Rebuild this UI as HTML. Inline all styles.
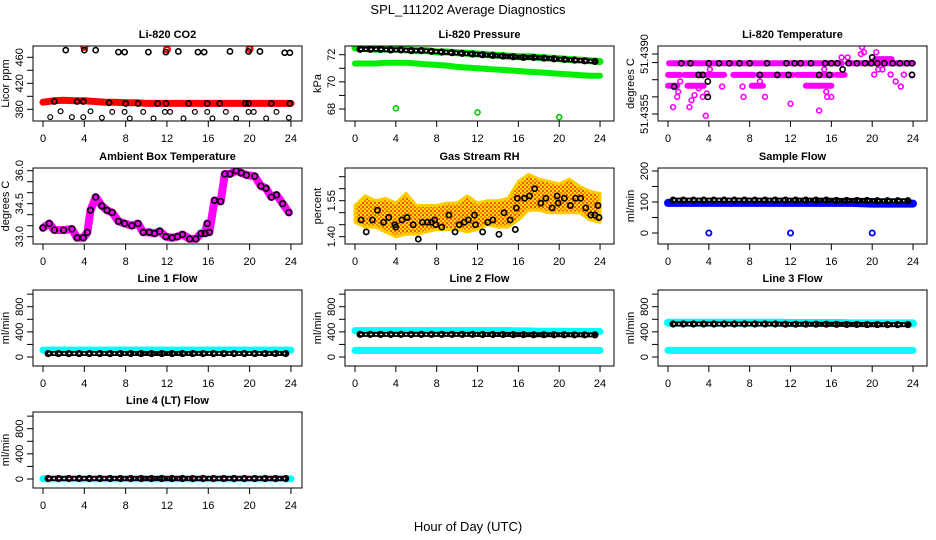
<!DOCTYPE html>
<html><head><meta charset="utf-8"><style>
html,body{margin:0;padding:0;background:#fff;}
svg{display:block;font-family:"Liberation Sans",Arial,sans-serif;}
</style></head><body>
<svg id="chart" width="936" height="540" viewBox="0 0 936 540" xmlns="http://www.w3.org/2000/svg">
<text x="468" y="14" text-anchor="middle" font-size="13">SPL_111202  Average Diagnostics</text>
<text x="468" y="531" text-anchor="middle" font-size="13">Hour of Day (UTC)</text>
</svg>
<script>
// ---------- data ----------
const hours = [0,1,2,3,4,5,6,7,8,9,10,11,12,13,14,15,16,17,18,19,20,21,22,23,24];
const halfHours = [0.5,1.5,2.5,3.5,4.5,5.5,6.5,7.5,8.5,9.5,10.5,11.5,12.5,13.5,14.5,15.5,16.5,17.5,18.5,19.5,20.5,21.5,22.5,23.5];
const xTicks = [0,4,8,12,16,20,24];

// Li-820 CO2
const co2Red = [391,393,394,393,393,392,391,391,390,390,389,389,389,389,389,389,389,389,389,389,389,389,389,389,389];
const co2RedOutT = [4,12,20];
const co2RedOutV = [476,472,473];
const co2HiT = [2.2,4,5.1,7.3,7.9,10.2,11.9,13.1,15,15.6,18.1,19.9,21,23.4,23.9];
const co2HiV = [471,471,471,468,468,468,468,469,468,468,469,469,469,467,467];
const co2MidT = [1.1,3.3,3.9,6.4,8,9.2,11.1,11.9,14.1,15.9,17.1,19.6,19.9,22.1,23.9];
const co2MidV = [392,392,392,390,389,389,389,389,389,389,389,389,389,389,389];
const co2LoT = [0.7,1.7,2.8,3.9,4.6,5.7,6.7,7.9,8.4,9.7,10.7,11.8,12.3,13.6,14.7,15.9,16.4,17.7,18.7,19.9,20.4,21.6,22.6,23.8];
const co2LoV = [368,377,368,368,377,367,376,376,366,376,366,376,376,366,376,376,366,376,366,376,376,366,376,367];

// Li-820 Pressure
const presUpper = [72.5,72.45,72.4,72.4,72.4,72.35,72.3,72.3,72.2,72.2,72.15,72.1,72.05,72.0,71.95,71.9,71.85,71.85,71.8,71.75,71.7,71.65,71.6,71.55,71.5];
const presLower = [71.35,71.35,71.35,71.4,71.4,71.4,71.35,71.3,71.25,71.2,71.1,71.05,71.0,70.95,70.9,70.85,70.8,70.75,70.7,70.65,70.6,70.55,70.5,70.45,70.45];
const presBlack = [72.4,72.4,72.4,72.35,72.35,72.3,72.3,72.25,72.2,72.15,72.1,72.05,72.0,71.95,71.9,71.85,71.8,71.8,71.75,71.7,71.65,71.6,71.55,71.5];
const presOutT = [4,12,20];
const presOutV = [68.05,67.75,67.4];

// Li-820 Temperature (segments of constant level)
const tempSegStart = [0.1,17.6,0.0,1.6,6.4,8.8,12.6,16.5,0.0,1.9,8.2,13.5,20.3];
const tempSegEnd   = [17.0,24.0,1.2,5.5,8.4,12.2,16.1,17.3,0.9,3.5,9.3,16.0,21.9];
const tempSegLevel = [51.43846,51.43846,51.43778,51.43778,51.43778,51.43778,51.43778,51.43778,51.43715,51.43715,51.43715,51.43715,51.43870];
const tempPtT = [0.5,0.9,1.0,1.2,2.1,2.3,2.6,3.0,3.4,3.7,3.8,4.1,5.3,7.3,7.4,9.0,9.5,12.0,14.8,15.3,15.5,15.6,16.0,17.0,17.6,18.9,19.0,19.2,20.2,20.4,20.6,21.0,21.8,22.3,22.8,23.1,23.9];
const tempPtV = [51.4359,51.4365,51.4368,51.4374,51.4359,51.4363,51.4366,51.4370,51.4365,51.4354,51.4367,51.4381,51.4371,51.4371,51.4365,51.4374,51.4365,51.4361,51.4357,51.4381,51.4368,51.4365,51.4365,51.4388,51.4388,51.4390,51.4394,51.4391,51.4378,51.4391,51.4381,51.4381,51.4378,51.4374,51.4371,51.4378,51.4378];
const tempBlkT = [0.6,1.3,2.2,3.0,3.4,3.9,3.9,4.0,5.0,6.0,7.0,8.0,9.0,9.7,10.7,11.6,11.8,12.4,13.0,14.0,14.8,15.4,15.8,16.0,16.6,17.1,17.7,18.5,19.3,19.9,20.0,20.5,21.2,22.0,22.7,23.4,23.9,23.9];
const tempBlkV = [51.4371,51.43846,51.43846,51.43778,51.43778,51.4365,51.4374,51.43846,51.43846,51.43846,51.43846,51.43846,51.43778,51.43846,51.43778,51.43846,51.43778,51.43846,51.43846,51.43846,51.43778,51.43846,51.43778,51.43846,51.43846,51.4381,51.43846,51.43846,51.43846,51.43846,51.4388,51.43846,51.43846,51.43846,51.43846,51.43846,51.43846,51.43778];

// Ambient Box Temperature
const ambT = [0,0.6,1.1,2.0,2.8,3.3,3.9,4.3,4.6,5.1,5.7,6.2,6.7,7.3,7.9,8.6,9.2,9.7,10.3,10.8,11.3,11.9,12.5,13.0,13.5,14.2,14.8,15.3,15.7,15.9,16.1,16.6,17.2,17.6,18.1,18.7,19.2,19.7,20.5,21.1,21.6,22.1,22.6,23.2,23.8];
const ambV = [33.4,33.6,33.3,33.3,33.35,32.95,32.95,33.2,34.2,34.8,34.4,34.2,34.1,33.7,33.6,33.5,33.6,33.2,33.2,33.15,33.25,33.0,32.95,33.0,33.1,32.9,32.9,33.15,33.15,33.6,33.2,34.65,34.6,35.85,35.85,36.0,35.9,35.8,35.75,35.3,35.2,34.8,34.9,34.5,34.1];

// Gas Stream RH
const rhBandT = [0,1,2,3,4,5,6,7,8,9,10,11,12,13,14,15,16,17,18,19,20,21,22,23,24];
const rhUpper = [1.53,1.57,1.55,1.56,1.54,1.58,1.53,1.53,1.53,1.54,1.54,1.57,1.54,1.55,1.55,1.56,1.63,1.66,1.64,1.63,1.62,1.64,1.61,1.59,1.58];
const rhLower = [1.46,1.44,1.44,1.42,1.40,1.41,1.41,1.42,1.43,1.43,1.43,1.42,1.43,1.45,1.44,1.44,1.47,1.51,1.51,1.50,1.50,1.50,1.50,1.47,1.46];
const rhBlkT = [0.6,1.1,1.7,2.2,2.8,3.3,3.9,4.0,4.6,5.1,5.7,6.2,6.6,7.1,7.5,7.8,7.9,8.5,9.2,9.8,10.2,10.7,11.1,11.7,11.8,12.5,13.0,13.5,14.1,14.6,15.2,15.7,15.8,15.9,16.6,17.1,17.6,18.2,18.7,19.3,19.8,19.9,20.5,21.1,21.6,22.1,22.6,23.1,23.5,23.8,23.9];
const rhBlkV = [1.47,1.42,1.47,1.51,1.46,1.48,1.45,1.44,1.47,1.48,1.45,1.39,1.46,1.46,1.46,1.47,1.45,1.44,1.49,1.42,1.45,1.46,1.47,1.49,1.45,1.42,1.46,1.47,1.41,1.50,1.47,1.43,1.52,1.56,1.56,1.57,1.60,1.54,1.56,1.52,1.57,1.54,1.56,1.53,1.56,1.56,1.52,1.49,1.49,1.53,1.48];

// Sample Flow
const sfBlue = [97,97,97,97,97,97,97,97,97,97,97,97,97,97,97,97,97,97,97,96,95,95,95,95,95];
const sfBlueOutT = [4,12,20];
const sfBlueOutV = [0,0,0];
const sfBlack = [106,106,106,106,106,106,106,106,106,106,106,106,106,106,106,106,105,105,105,105,104,104,104,104];

// Line flows
const l1Cyan = [110,110,110,110,110,110,110,110,110,110,110,110,110,110,110,110,110,110,110,110,110,110,110,110,110];
const l1Black = [55,55,55,55,55,55,55,55,55,55,55,55,55,55,55,55,55,55,55,55,55,55,55,55];
const l2CyanHi = [420,420,420,420,420,420,420,420,420,420,420,420,420,420,420,420,415,415,410,410,410,405,405,405,405];
const l2CyanLo = [105,105,105,105,105,105,105,105,105,105,105,105,105,105,105,105,105,105,105,105,105,105,105,105,105];
const l2Black = [360,360,360,360,360,360,360,360,360,360,360,360,358,358,358,356,356,355,355,354,354,353,352,352];
const l3CyanHi = [545,545,545,545,545,545,545,545,545,545,545,545,540,540,540,540,540,540,535,535,535,535,535,535,535];
const l3CyanLo = [105,105,105,105,105,105,105,105,105,105,105,105,105,105,105,105,105,105,105,105,105,105,105,105,105];
const l3Black = [525,525,525,525,525,525,525,525,525,525,525,522,522,522,522,522,520,518,518,516,516,515,515,515];
const l4Cyan = [5,5,5,5,5,5,5,5,5,5,5,5,5,5,5,5,5,5,5,5,5,5,5,5,5];
const l4Black = [8,8,8,8,8,8,8,8,8,8,8,8,8,8,8,8,8,8,8,8,8,8,8,8];

// ---------- drawing ----------
const NS = 'http://www.w3.org/2000/svg';
const svg = document.getElementById('chart');
function mk(tag, attrs, parent){
  const e = document.createElementNS(NS, tag);
  for (const k in attrs) e.setAttribute(k, attrs[k]);
  (parent||svg).appendChild(e);
  return e;
}
const colX0 = [43,355,668], colPx = [10.33,10.21,10.21];
const rowTop = [46,168,290,412], rowBot = [121,244,366,488];

function panel(col,row,title,ylab,v1,y1,v2,y2,ticks,labels,name){
  const g = mk('g',{});
  
  
  const x0 = colX0[col], px = colPx[col];
  const X = t => x0 + t*px;
  const Y = v => y1 + (v - v1)*(y2-y1)/(v2-v1);
  const L = x0-10, R = x0+259, T = rowTop[row], B = rowBot[row];
  const clip = mk('clipPath',{id:'c'+name}, g);
  mk('rect',{x:L,y:T,width:R-L,height:B-T}, clip);
  const plot = mk('g',{'clip-path':'url(#c'+name+')'}, g);
  const box = mk('rect',{x:L,y:T,width:R-L,height:B-T,fill:'none',stroke:'#000','stroke-width':1}, g);
  
  
  const tt = mk('text',{x:(L+R)/2,y:T-8,'text-anchor':'middle','font-size':11,'font-weight':'bold'}, g);
  tt.textContent = title;
  
  
  const xa = mk('g',{}, g);
  
  
  mk('line',{x1:X(0),x2:X(24),y1:B,y2:B,stroke:'#000'}, xa);
  xTicks.forEach(t=>{
    mk('line',{x1:X(t),x2:X(t),y1:B,y2:B+6,stroke:'#000'}, xa);
    const lb = mk('text',{x:X(t),y:B+21,'text-anchor':'middle','font-size':11}, xa);
    lb.textContent = t;
  });
  const ya = mk('g',{}, g);
  
  
  mk('line',{x1:L,x2:L,y1:Y(ticks[0]),y2:Y(ticks[ticks.length-1]),stroke:'#000'}, ya);
  ticks.forEach(v=>{ mk('line',{x1:L-6,x2:L,y1:Y(v),y2:Y(v),stroke:'#000'}, ya); });
  labels.forEach(s=>{
    const lx = L-10, ly = Y(Number(s));
    const lb = mk('text',{x:lx,y:ly,'text-anchor':'middle','font-size':11,transform:'rotate(-90 '+lx+' '+ly+')'}, ya);
    lb.textContent = s;
  });
  const yl = mk('text',{x:L-24,y:(T+B)/2,'text-anchor':'middle','font-size':11,transform:'rotate(-90 '+(L-24)+' '+((T+B)/2)+')'}, g);
  yl.textContent = ylab;
  
  
  return {plot,X,Y,name};
}
function band(p,ts,vs,color,w,label){
  const pts = ts.map((t,i)=>p.X(t).toFixed(1)+','+p.Y(vs[i]).toFixed(1)).join(' ');
  const e = mk('polyline',{points:pts,fill:'none',stroke:color,'stroke-width':w,'stroke-linejoin':'round','stroke-linecap':'round'}, p.plot);
  
  
}
function circles(p,ts,vs,color,label,r,sw){
  const g = mk('g',{}, p.plot);
  
  
  ts.forEach((t,i)=>{
    const c = mk('circle',{cx:p.X(t),cy:p.Y(vs[i]),r:r||2.6,fill:'none',stroke:color,'stroke-width':sw||1.6}, g);
    
    
  });
}
function segs(p,s,e,lv,color,w,label){
  const g = mk('g',{}, p.plot);
  
  
  s.forEach((st,i)=>{
    const l = mk('line',{x1:p.X(st),x2:p.X(e[i]),y1:p.Y(lv[i]),y2:p.Y(lv[i]),stroke:color,'stroke-width':w,'stroke-linecap':'round'}, g);
    
    
  });
}
function blackLine(p,ts,vs,label){
  band(p,ts,vs,'#000',5,label+'-band');
  const pts = ts.map((t,i)=>p.X(t).toFixed(1)+','+p.Y(vs[i]).toFixed(1)).join(' ');
  mk('polyline',{points:pts,fill:'none',stroke:'#fff','stroke-width':1.4,'stroke-dasharray':'2 3'}, p.plot);
  circles(p,ts,vs,'#000',label,2.8,1.6);
}

const defs = mk('defs',{});
const pat = mk('pattern',{id:'rhpat',width:4,height:4,patternUnits:'userSpaceOnUse'}, defs);
mk('rect',{x:0,y:0,width:4,height:4,fill:'#ffd700'}, pat);
mk('rect',{x:0,y:0,width:2,height:2,fill:'#ff7f00'}, pat);
mk('rect',{x:2,y:2,width:2,height:2,fill:'#ff5000'}, pat);

let p = panel(0,0,'Li-820 CO2','Licor ppm',460,57.3,380,109.3,[380,400,420,440,460],['380','420','460'],'co2');
band(p,hours,co2Red,'#ff0000',7,'red-band');
circles(p,co2RedOutT,co2RedOutV,'#ff0000','red-outliers',2.8,2.5);
circles(p,co2HiT,co2HiV,'#000','black-high');
circles(p,co2MidT,co2MidV,'#000','black-mid');
circles(p,co2LoT,co2LoV,'#000','black-low',2.4,1.2);

p = panel(1,0,'Li-820 Pressure','kPa',72,54.7,68,109,[68,69,70,71,72],['68','70','72'],'pressure');
band(p,hours,presLower,'#00ee00',6,'green-lower-band');
band(p,hours,presUpper,'#00ee00',7,'green-upper-band');
blackLine(p,halfHours,presBlack,'black-series');
circles(p,presOutT,presOutV,'#00cc00','green-outliers',2.5,1.6);

p = panel(2,0,'Li-820 Temperature','degrees C',51.4390,54,51.4355,114,[51.4355,51.4365,51.4375,51.4385,51.4390],['51.4355','51.4390'],'li820-temp');
segs(p,tempSegStart,tempSegEnd,tempSegLevel,'#ff00ff',6,'magenta-levels');
circles(p,tempPtT,tempPtV,'#ff00ff','magenta-points',2.4,1.6);
circles(p,tempBlkT,tempBlkV,'#000','black-points',2.6,1.6);

p = panel(0,1,'Ambient Box Temperature','degrees C',36.0,170.7,33.0,236.7,[33.0,33.5,34.0,34.5,35.0,35.5,36.0],['33.0','34.5','36.0'],'ambient-temp');
band(p,ambT,ambV,'#ff00ff',8,'magenta-band');
circles(p,ambT,ambV,'#000','black-points',2.8,1.7);

p = panel(1,1,'Gas Stream RH','percent',1.55,200.7,1.40,236.7,[1.40,1.45,1.50,1.55,1.60,1.65],['1.40','1.55'],'rh');
{
  const up = rhBandT.map((t,i)=>p.X(t).toFixed(1)+','+p.Y(rhUpper[i]).toFixed(1));
  const lo = rhBandT.map((t,i)=>p.X(t).toFixed(1)+','+p.Y(rhLower[i]).toFixed(1)).reverse();
  const poly = mk('polygon',{points:up.concat(lo).join(' '),fill:'url(#rhpat)',stroke:'#ffcc00','stroke-width':3,'stroke-linejoin':'round'}, p.plot);
  
  
}
circles(p,rhBlkT,rhBlkV,'#000','black-points',2.6,1.7);

p = panel(2,1,'Sample Flow','ml/min',100,202,0,233,[0,50,100,150,200],['0','100','200'],'sample-flow');
band(p,hours,sfBlue,'#0000ff',8,'blue-band');
circles(p,sfBlueOutT,sfBlueOutV,'#0000ff','blue-outliers',2.6,1.8);
blackLine(p,halfHours,sfBlack,'black-series');

const flowTicks = [0,200,400,600,800,1000], flowLabels = ['0','400','800'];
p = panel(0,2,'Line 1 Flow','ml/min',0,357,800,306.7,flowTicks,flowLabels,'line1-flow');
band(p,hours,l1Cyan,'#00ffff',7,'cyan-band');
blackLine(p,halfHours,l1Black,'black-series');

p = panel(1,2,'Line 2 Flow','ml/min',0,357,800,306.7,flowTicks,flowLabels,'line2-flow');
band(p,hours,l2CyanHi,'#00ffff',7,'cyan-upper-band');
band(p,hours,l2CyanLo,'#00ffff',7,'cyan-lower-band');
blackLine(p,halfHours,l2Black,'black-series');

p = panel(2,2,'Line 3 Flow','ml/min',0,357,800,306.7,flowTicks,flowLabels,'line3-flow');
band(p,hours,l3CyanHi,'#00ffff',8,'cyan-upper-band');
band(p,hours,l3CyanLo,'#00ffff',7,'cyan-lower-band');
blackLine(p,halfHours,l3Black,'black-series');

p = panel(0,3,'Line 4 (LT) Flow','ml/min',0,479,800,428.7,flowTicks,flowLabels,'line4-flow');
band(p,hours,l4Cyan,'#00ffff',7,'cyan-band');
blackLine(p,halfHours,l4Black,'black-series');
</script>
</body></html>
